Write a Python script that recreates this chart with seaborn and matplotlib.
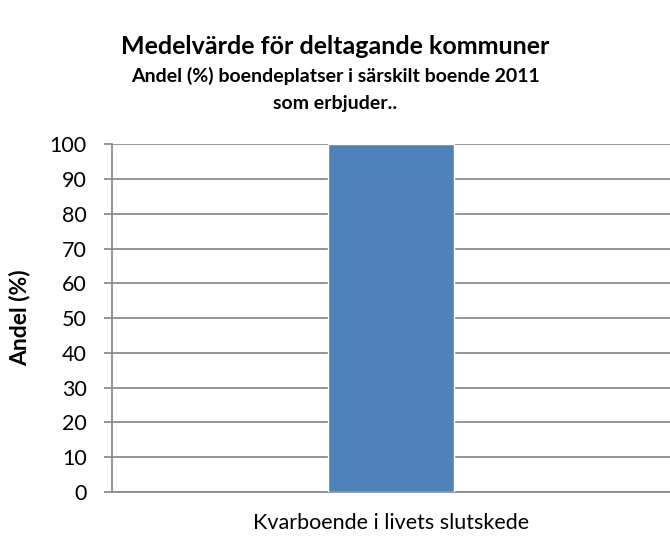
import pandas as pd
import seaborn as sns
import matplotlib.pyplot as plt

categories = ["Kvarboende i livets slutskede"]
values = [100]
yticks = [0, 10, 20, 30, 40, 50, 60, 70, 80, 90, 100]

sns.set_style("white")
plt.rcParams["font.family"] = ["Lato", "DejaVu Sans"]
plt.rcParams["text.color"] = "black"
plt.rcParams["axes.labelcolor"] = "black"
plt.rcParams["xtick.labelcolor"] = "black"
plt.rcParams["ytick.labelcolor"] = "black"

df = pd.DataFrame({"kategori": categories, "andel": values})

fig = plt.figure(figsize=(6.7, 5.36), dpi=100)
ax = fig.add_axes([0.167, 0.082, 0.833, 0.649])

sns.barplot(data=df, x="kategori", y="andel", color="#4F81BD", saturation=1,
            width=0.226, ax=ax, zorder=3)

ax.set_ylim(0, 100)
ax.set_xlim(-0.5, 0.5)
ax.set_yticks(yticks)
ax.yaxis.grid(True, color="#8c8c8c", linewidth=1.3, zorder=0)
ax.set_axisbelow(True)
for s in ["top", "right"]:
    ax.spines[s].set_visible(False)
for s in ["left", "bottom"]:
    ax.spines[s].set_color("#8c8c8c")
    ax.spines[s].set_linewidth(1.3)
ax.tick_params(axis="y", direction="out", length=6, width=1.3, color="#8c8c8c",
               labelsize=15.5, pad=12, left=True, labelcolor="black")
ax.set_xticks([-0.5], minor=True)
ax.tick_params(axis="x", which="minor", direction="out", length=6, width=1.3, color="#8c8c8c")
ax.tick_params(axis="x", which="major", length=0, labelsize=15.5, pad=15, labelcolor="black")
ax.set_xlabel("")
ax.set_ylabel("Andel (%)", fontsize=16.5, fontweight="bold", labelpad=14, color="black")

fig.text(0.5, 0.914, "Medelvärde för deltagande kommuner", ha="center", va="center",
         fontsize=18, fontweight="bold", color="black")
fig.text(0.5, 0.858, "Andel (%) boendeplatser i särskilt boende 2011", ha="center",
         va="center", fontsize=14, fontweight="bold", color="black")
fig.text(0.5, 0.806, "som erbjuder..", ha="center", va="center", fontsize=14,
         fontweight="bold", color="black")

fig.savefig("out.png", dpi=100)
